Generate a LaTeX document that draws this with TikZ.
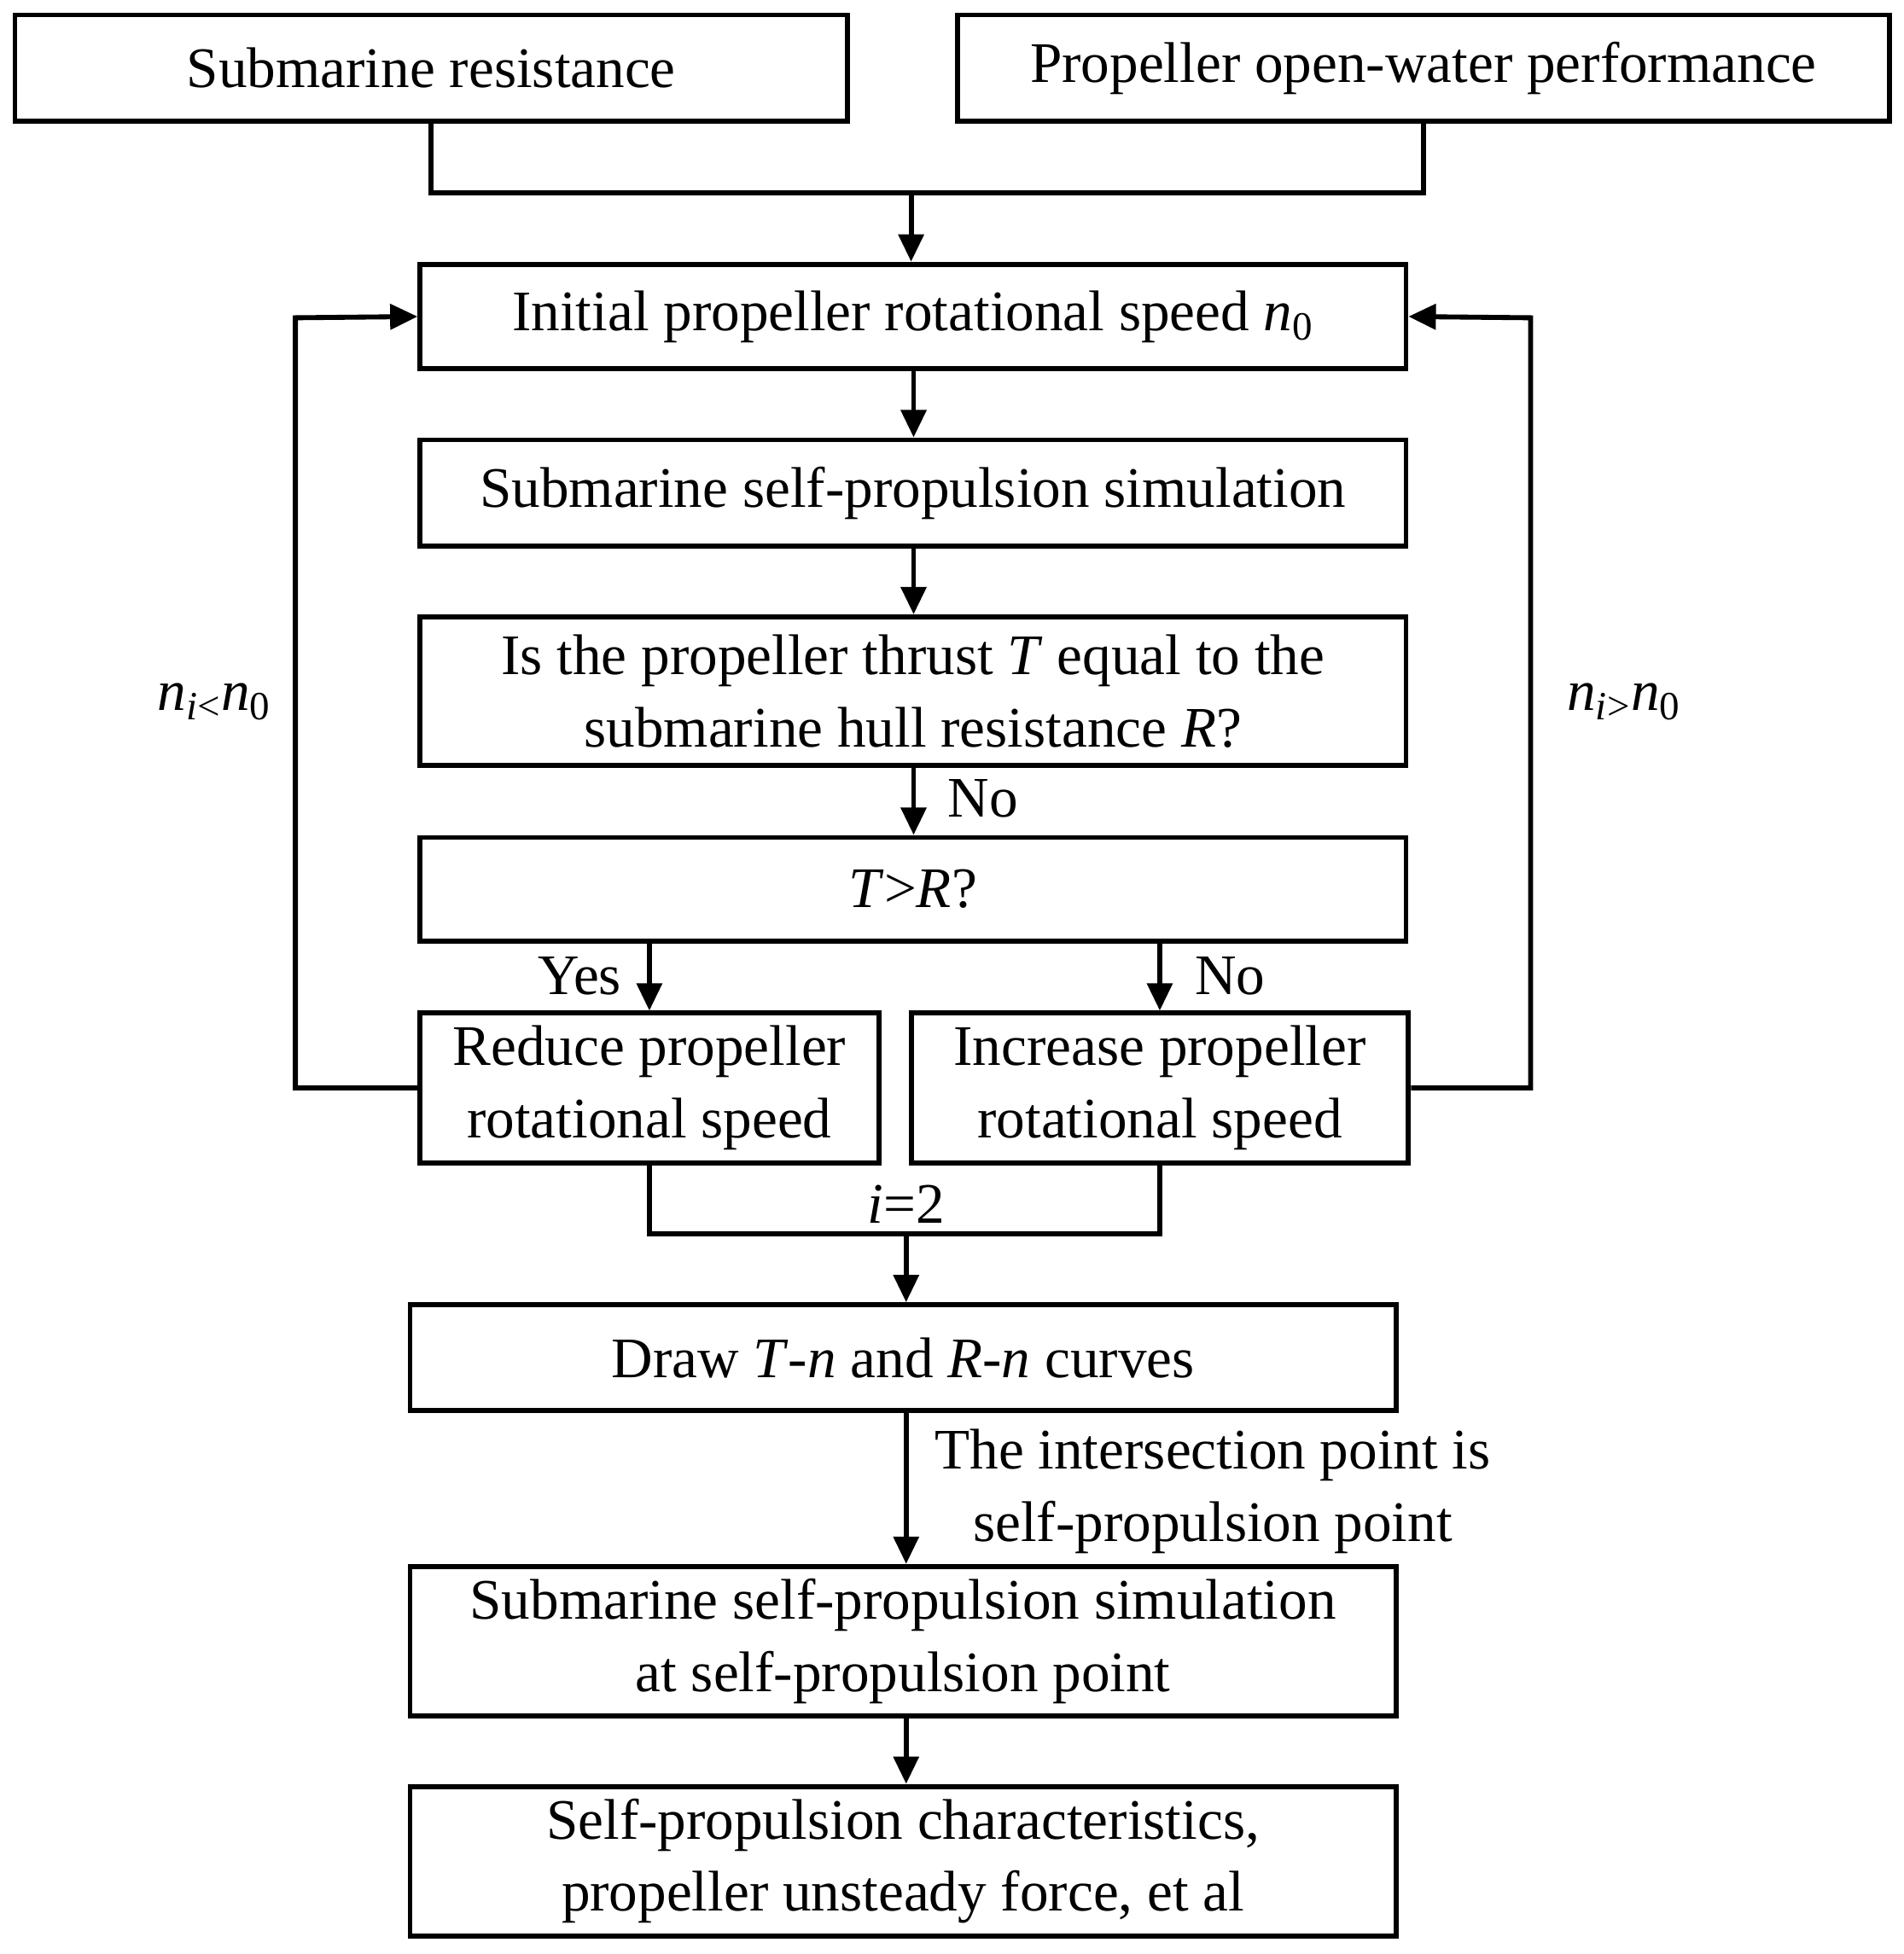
\documentclass[tikz,border=0pt]{standalone}
\usepackage{fontspec}
\setmainfont{Liberation Serif}
\usetikzlibrary{arrows.meta}
\begin{document}
\begin{tikzpicture}[x=0.5pt,y=-0.5pt,
  box/.style={draw,line width=2pt,align=center,inner sep=0pt,font=\fontsize{23}{29}\selectfont},
  lbl/.style={font=\fontsize{23}{29}\selectfont,inner sep=0pt,align=center},
  ln/.style={line width=2pt},
  arr/.style={line width=2pt,-{Triangle[length=11pt,width=10pt]}}]
\useasboundingbox (0,0) rectangle (1527,1568);
\node[box,minimum width=334pt,minimum height=42.5pt] (A) at (346,54.5) {Submarine resistance};
\node[box,minimum width=374pt,minimum height=42.5pt] (B) at (1142,54.5) {Propeller open-water performance};
\node[box,minimum width=395.5pt,minimum height=42pt] (C) at (732.5,254) {Initial propeller rotational speed \textit{n}\textsubscript{0}};
\node[box,minimum width=395.5pt,minimum height=42.5pt] (D) at (732.5,395.5) {Submarine self-propulsion simulation};
\node[box,minimum width=395.5pt,minimum height=59.5pt] (E) at (732.5,554.5) {Is the propeller thrust \textit{T} equal to the\\submarine hull resistance \textit{R}?};
\node[box,minimum width=395.5pt,minimum height=41.5pt] (F) at (732.5,713.5) {\textit{T}>\textit{R}?};
\node[box,minimum width=184pt,minimum height=60pt] (G) at (521,873) {Reduce propeller\\rotational speed};
\node[box,minimum width=199.5pt,minimum height=60pt] (H) at (930.5,873) {Increase propeller\\rotational speed};
\node[box,minimum width=395.5pt,minimum height=42.5pt] (I) at (724.5,1089.5) {Draw \textit{T}-\textit{n} and \textit{R}-\textit{n} curves};
\node[box,minimum width=395.5pt,minimum height=60pt] (J) at (724.5,1317) {Submarine self-propulsion simulation\\at self-propulsion point};
\node[box,minimum width=395.5pt,minimum height=60pt] (K) at (724.5,1493.5) {Self-propulsion characteristics,\\propeller unsteady force, et al};
\coordinate (j1) at (731,155);
\draw[ln] (A.south) |- (j1) -| (B.south);
\draw[arr] (j1) -- (C.north -| j1);
\draw[arr] (C.south -| 733,0) -- (D.north -| 733,0);
\draw[arr] (D.south -| 733,0) -- (E.north -| 733,0);
\draw[arr] (E.south -| 733,0) -- (F.north -| 733,0);
\node[lbl,anchor=west] (no1) at (760,641) {No};
\draw[arr] (F.south -| G.north) -- (G.north);
\draw[arr] (F.south -| H.north) -- (H.north);
\node[lbl] (yes) at (465,783) {Yes};
\node[lbl] (no2) at (987,783) {No};
\coordinate (lt) at (237,255);
\coordinate (rt) at (1228,255);
\draw[arr] (G.west) -| (lt) -- (C.west);
\draw[arr] (H.east) -| (rt) -- (C.east);
\node[lbl] (nl) at (172,563) {\textit{n}\textsubscript{\textit{i}<}\textit{n}\textsubscript{0}};
\node[lbl] (nr) at (1303,563) {\textit{n}\textsubscript{\textit{i}>}\textit{n}\textsubscript{0}};
\coordinate (j2) at (727,990);
\draw[ln] (G.south) |- (j2) -| (H.south);
\node[lbl] (i2) at (727,966) {\textit{i}=2};
\draw[arr] (j2) -- (I.north -| j2);
\draw[arr] (I.south -| 727,0) -- (J.north -| 727,0);
\node[lbl] (int) at (973,1197) {The intersection point is\\self-propulsion point};
\draw[arr] (J.south -| 727,0) -- (K.north -| 727,0);
\end{tikzpicture}
\end{document}
